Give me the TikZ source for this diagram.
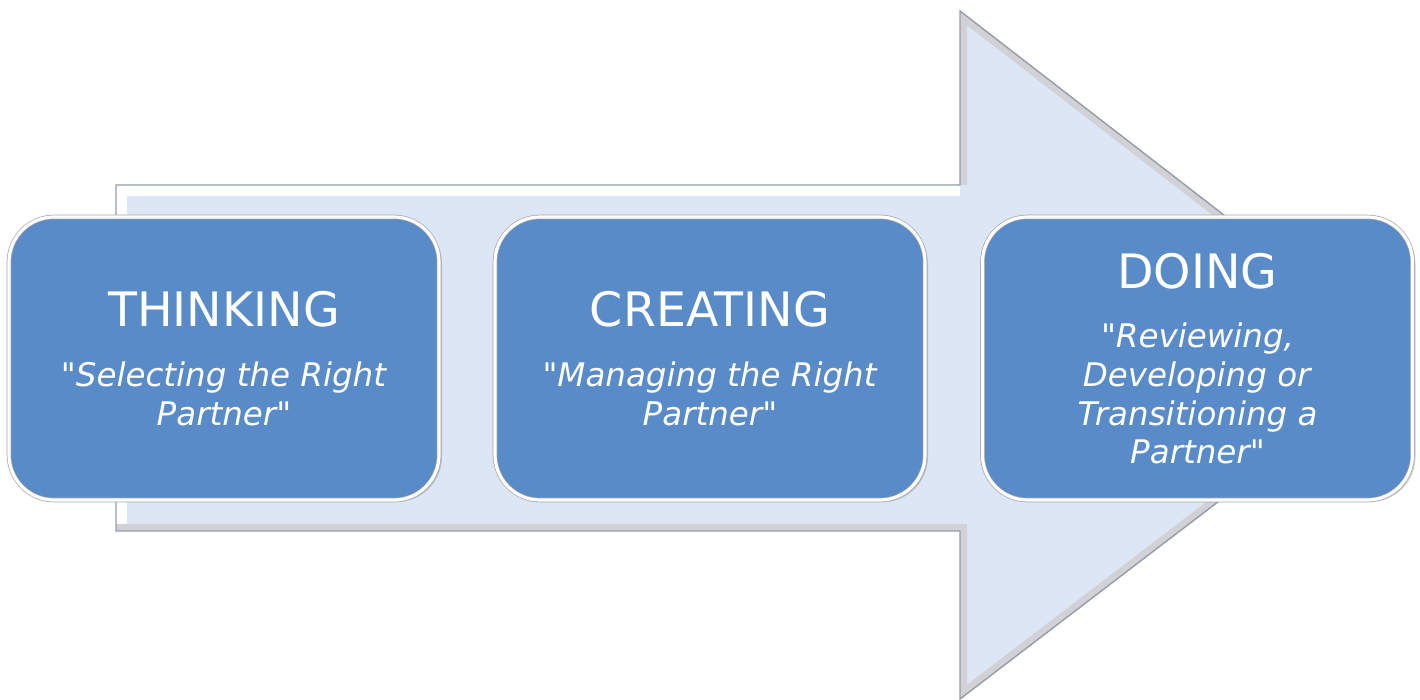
\documentclass[tikz,border=0pt]{standalone}
\usepackage{fontspec}
\setmainfont{DejaVu Sans}[Ligatures=TeXOff]
\usetikzlibrary{shapes,arrows,positioning,shadows}
\usepackage{xcolor}

\definecolor{stageblue}{RGB}{88,139,200}
\definecolor{arrowfill}{RGB}{220,230,244}
\definecolor{arrowedge}{RGB}{150,156,166}

\begin{document}
\begin{tikzpicture}[node distance=1.5cm, auto]

  % Define styles for stages
  \tikzstyle{stage} = [rectangle, rounded corners=0.9cm, draw=gray!70, double=white, double distance=1.8pt, fill=stageblue, text=white, align=center, minimum width=8.6cm, minimum height=5.66cm, inner sep=2pt, drop shadow={opacity=0.35, shadow xshift=0.06cm, shadow yshift=-0.04cm}, font=\fontsize{18.5}{22}\selectfont]

  \useasboundingbox (0,0) rectangle (28.4,14);

  % Big arrow behind
  \coordinate (tip) at (28.15,6.86);
  \fill[arrowfill] (2.32,10.3) -- (19.2,10.3) -- (19.2,13.78) -- (tip) -- (19.2,0.02) -- (19.2,3.38) -- (2.32,3.38) -- cycle;
  \begin{scope}
    \clip (2.32,10.3) -- (19.2,10.3) -- (19.2,13.78) -- (tip) -- (19.2,0.02) -- (19.2,3.38) -- (2.32,3.38) -- cycle;
    \draw[white, line width=12pt] (2.32,3.38) -- (2.32,10.3) -- (19.2,10.3);
    \draw[arrowedge!45, line width=8pt] (19.2,10.3) -- (19.2,13.78) -- (tip) -- (19.2,0.02) -- (19.2,3.38) -- (2.32,3.38);
  \end{scope}
  \draw[arrowedge, line width=0.8pt] (2.32,10.3) -- (19.2,10.3) -- (19.2,13.78) -- (tip) -- (19.2,0.02) -- (19.2,3.38) -- (2.32,3.38) -- cycle;

  % Stages
  \node[stage] (thinking) at (4.48,6.83) {{\fontsize{27}{33}\selectfont THINKING}\\[12pt]\textit{"Selecting the Right}\\\textit{Partner"}};
  \node[stage] (creating) at (14.2,6.83) {{\fontsize{27}{33}\selectfont CREATING}\\[12pt]\textit{"Managing the Right}\\\textit{Partner"}};
  \node[stage] (doing) at (23.95,6.83) {{\fontsize{27}{33}\selectfont DOING}\\[12pt]\textit{"Reviewing,}\\\textit{Developing or}\\\textit{Transitioning a}\\\textit{Partner"}};

\end{tikzpicture}
\end{document}
